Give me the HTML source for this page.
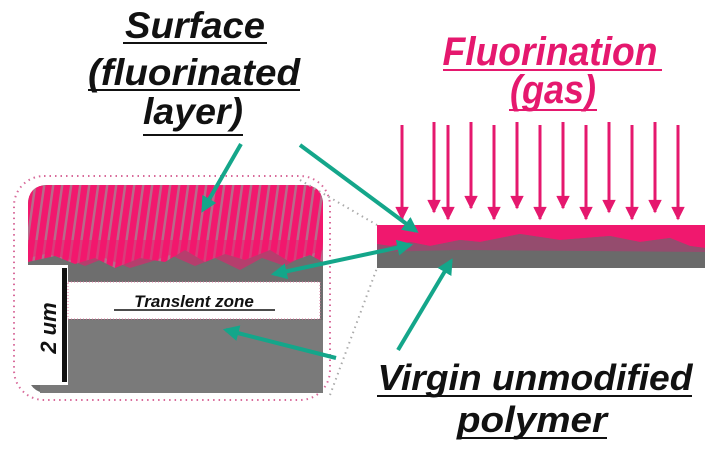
<!DOCTYPE html>
<html><head><meta charset="utf-8"><style>
html,body{margin:0;padding:0;background:#fff;}
svg{display:block;}
text{font-family:"Liberation Sans",sans-serif;font-weight:bold;font-style:italic;}
</style></head><body>
<svg width="720" height="457" viewBox="0 0 720 457" xmlns="http://www.w3.org/2000/svg">
<defs>
<pattern id="st" width="9" height="40" patternUnits="userSpaceOnUse" patternTransform="skewX(-8)">
<rect width="9" height="40" fill="#f2186e"/>
<rect x="6" width="2.5" height="40" fill="#b86a8a"/>
</pattern>
<marker id="ta" viewBox="0 0 10 10" refX="8" refY="5" markerWidth="4" markerHeight="4" orient="auto-start-reverse">
<path d="M0,0 L10,5 L0,10 z" fill="#14a68a"/></marker>
<marker id="pa" viewBox="0 0 10 10" refX="9" refY="5" markerWidth="5" markerHeight="4.5" orient="auto">
<path d="M0,0 L10,5 L0,10 z" fill="#e5186e"/></marker>
</defs>

<rect x="14" y="176" width="316" height="224" rx="30" fill="none" stroke="#d86a9a" stroke-width="2" stroke-dasharray="1.5 4"/>
<rect x="28" y="185" width="295" height="208" rx="18" fill="#6e6e6e"/>
<rect x="40" y="320" width="283" height="73" fill="#7a7a7a"/>
<path d="M28,205 Q28,185 48,185 L303,185 Q323,185 323,205 L323,262 L310,255 L290,262 L270,250 L245,260 L225,254 L205,262 L185,250 L165,262 L140,258 L115,268 L95,258 L75,264 L55,256 L28,262 Z" fill="url(#st)"/>
<path d="M28,240 L323,240 L323,250 L300,258 L285,266 L262,258 L240,270 L215,258 L195,266 L170,255 L150,262 L130,268 L105,258 L85,266 L65,258 L45,254 L28,258 Z" fill="#f2186e" opacity="0.55"/>
<rect x="26" y="265" width="42" height="120" fill="#fff"/>
<rect x="68" y="282" width="252" height="37" fill="#fff" stroke="#e07aa0" stroke-width="1" stroke-dasharray="1 2"/>
<text x="194" y="307" font-size="17" text-anchor="middle" fill="#111">Translent zone</text>
<line x1="114" y1="310" x2="275" y2="310" stroke="#111" stroke-width="1.5"/>
<rect x="62" y="268" width="5" height="114" fill="#111"/>
<text transform="translate(56,328) rotate(-90)" font-size="22" text-anchor="middle" fill="#111" font-style="normal">2 um</text>

<path d="M300,180 L377,225" fill="none" stroke="#aaa" stroke-width="2" stroke-dasharray="1.5 4"/>
<path d="M330,395 L377,268" fill="none" stroke="#aaa" stroke-width="2" stroke-dasharray="1.5 4"/>

<rect x="377" y="225" width="328" height="43" fill="#6a6a6a"/>
<path d="M377,225 L705,225 L705,248 L690,246 L670,238 L640,242 L610,236 L560,240 L520,234 L480,242 L460,240 L430,246 L410,242 L390,246 L377,244 Z" fill="#f0186e"/>
<path d="M377,244 L390,246 L410,242 L430,246 L460,240 L480,242 L520,234 L560,240 L610,236 L640,242 L670,238 L690,246 L705,248 L705,252 L460,250 L377,252 Z" fill="#a84070" opacity="0.7"/>

<g stroke="#e5186e" stroke-width="3" marker-end="url(#pa)">
<line x1="402" y1="125" x2="402" y2="219"/>
<line x1="434" y1="122" x2="434" y2="212"/>
<line x1="448" y1="125" x2="448" y2="219"/>
<line x1="471" y1="122" x2="471" y2="208"/>
<line x1="494" y1="125" x2="494" y2="219"/>
<line x1="517" y1="122" x2="517" y2="208"/>
<line x1="540" y1="125" x2="540" y2="219"/>
<line x1="563" y1="122" x2="563" y2="208"/>
<line x1="586" y1="125" x2="586" y2="219"/>
<line x1="609" y1="122" x2="609" y2="212"/>
<line x1="632" y1="125" x2="632" y2="219"/>
<line x1="655" y1="122" x2="655" y2="212"/>
<line x1="678" y1="125" x2="678" y2="219"/>
</g>

<g stroke="#14a68a" stroke-width="4" fill="none">
<line x1="241" y1="144" x2="203" y2="210" marker-end="url(#ta)"/>
<line x1="300" y1="145" x2="416" y2="231" marker-end="url(#ta)"/>
<line x1="274" y1="274" x2="410" y2="245" marker-start="url(#ta)" marker-end="url(#ta)"/>
<line x1="398" y1="350" x2="451" y2="261" marker-end="url(#ta)"/>
<line x1="336" y1="358" x2="226" y2="330" marker-end="url(#ta)"/>
</g>

<g fill="#111" font-size="37" text-anchor="middle">
<text x="195" y="38" textLength="140" lengthAdjust="spacingAndGlyphs">Surface</text>
<text x="194" y="85" textLength="212" lengthAdjust="spacingAndGlyphs">(fluorinated</text>
<text x="193" y="124" textLength="100" lengthAdjust="spacingAndGlyphs">layer)</text>
</g>
<g stroke="#111" stroke-width="2">
<line x1="123" y1="43" x2="267" y2="43"/>
<line x1="88" y1="90" x2="300" y2="90"/>
<line x1="143" y1="135" x2="243" y2="135"/>
</g>
<g fill="#e5186e" font-size="40" text-anchor="middle">
<text x="550" y="65" textLength="215" lengthAdjust="spacingAndGlyphs">Fluorination</text>
<text x="553" y="103" textLength="86" lengthAdjust="spacingAndGlyphs">(gas)</text>
</g>
<g stroke="#e5186e" stroke-width="2">
<line x1="443" y1="70" x2="662" y2="70"/>
<line x1="509" y1="110" x2="597" y2="110"/>
</g>
<g fill="#111" font-size="36" text-anchor="middle">
<text x="535" y="390" textLength="315" lengthAdjust="spacingAndGlyphs">Virgin unmodified</text>
<text x="532" y="432" textLength="150" lengthAdjust="spacingAndGlyphs">polymer</text>
</g>
<g stroke="#111" stroke-width="2">
<line x1="377" y1="396" x2="692" y2="396"/>
<line x1="457" y1="438" x2="607" y2="438"/>
</g>
</svg>
</body></html>
